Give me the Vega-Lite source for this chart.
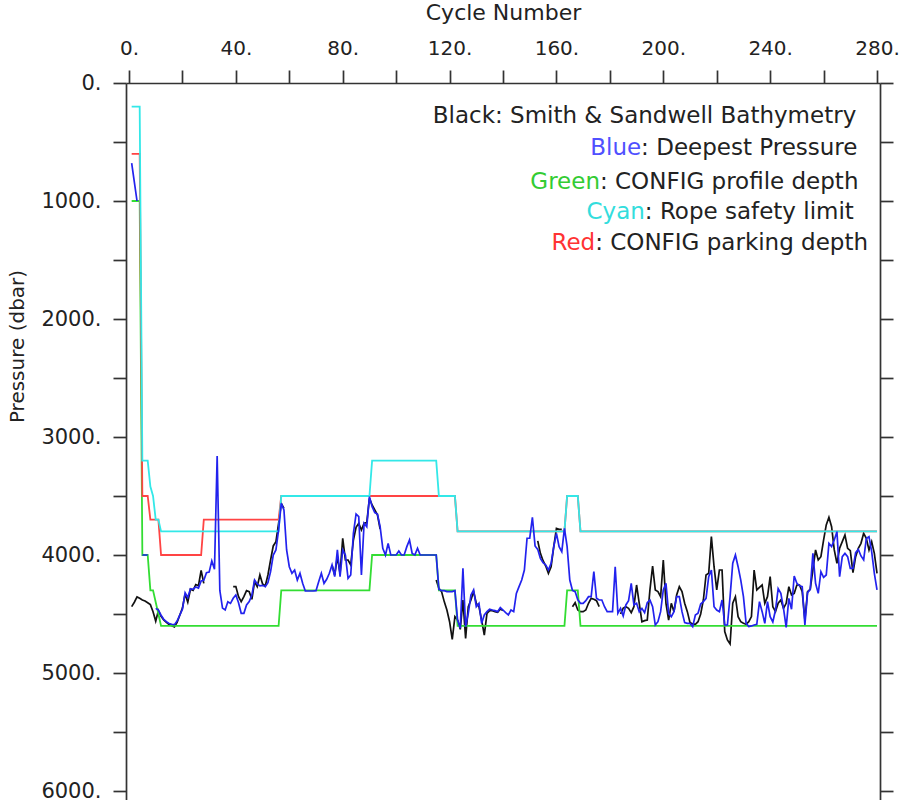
{
 "$schema": "https://vega.github.io/schema/vega-lite/v6.json",
 "width": 754,
 "height": 717,
 "autosize": {"type": "none"},
 "padding": {"left": 126, "top": 83, "right": 20, "bottom": 0},
 "background": "white",
 "config": {
  "view": {"stroke": null},
  "font": "DejaVu Sans",
  "axis": {"grid": false, "domainColor": "#333333", "tickColor": "#333333", "domainWidth": 1.7, "tickWidth": 1.7, "labelColor": "#222222", "titleColor": "#222222", "labelFontSize": 20, "titleFontSize": 20, "titleFontWeight": "normal", "labelFont": "DejaVu Sans", "titleFont": "DejaVu Sans"}
 },
 "datasets": {
  "floats": [
{"cycle":1,"bathymetry":4437,"deepest":680,"profile":1000,"rope":200,"parking":600},
{"cycle":2,"bathymetry":4400,"deepest":840,"profile":1000,"rope":200,"parking":600},
{"cycle":3,"bathymetry":4355,"deepest":1000,"profile":1000,"rope":200,"parking":600},
{"cycle":4,"bathymetry":4367,"deepest":null,"profile":1000,"rope":200,"parking":600},
{"cycle":5,"bathymetry":4381,"deepest":4000,"profile":4000,"rope":3200,"parking":3500},
{"cycle":6,"bathymetry":4390,"deepest":4000,"profile":4000,"rope":3200,"parking":3500},
{"cycle":7,"bathymetry":4404,"deepest":4000,"profile":4000,"rope":3200,"parking":3500},
{"cycle":8,"bathymetry":4420,"deepest":null,"profile":4300,"rope":3420,"parking":3700},
{"cycle":9,"bathymetry":4480,"deepest":null,"profile":4300,"rope":3500,"parking":3700},
{"cycle":10,"bathymetry":4560,"deepest":4452,"profile":4400,"rope":3700,"parking":3700},
{"cycle":11,"bathymetry":4470,"deepest":4466,"profile":4500,"rope":3700,"parking":3700},
{"cycle":12,"bathymetry":4520,"deepest":4510,"profile":4600,"rope":3800,"parking":4000},
{"cycle":13,"bathymetry":4550,"deepest":4545,"profile":4600,"rope":3800,"parking":4000},
{"cycle":14,"bathymetry":4570,"deepest":4565,"profile":4600,"rope":3800,"parking":4000},
{"cycle":15,"bathymetry":4590,"deepest":4580,"profile":4600,"rope":3800,"parking":4000},
{"cycle":16,"bathymetry":4600,"deepest":4587,"profile":4600,"rope":3800,"parking":4000},
{"cycle":17,"bathymetry":4610,"deepest":4590,"profile":4600,"rope":3800,"parking":4000},
{"cycle":18,"bathymetry":4570,"deepest":4560,"profile":4600,"rope":3800,"parking":4000},
{"cycle":19,"bathymetry":4510,"deepest":4510,"profile":4600,"rope":3800,"parking":4000},
{"cycle":20,"bathymetry":4450,"deepest":4460,"profile":4600,"rope":3800,"parking":4000},
{"cycle":21,"bathymetry":4330,"deepest":4320,"profile":4600,"rope":3800,"parking":4000},
{"cycle":22,"bathymetry":4400,"deepest":4360,"profile":4600,"rope":3800,"parking":4000},
{"cycle":23,"bathymetry":4290,"deepest":4285,"profile":4600,"rope":3800,"parking":4000},
{"cycle":24,"bathymetry":4300,"deepest":4290,"profile":4600,"rope":3800,"parking":4000},
{"cycle":25,"bathymetry":4250,"deepest":4270,"profile":4600,"rope":3800,"parking":4000},
{"cycle":26,"bathymetry":4260,"deepest":4280,"profile":4600,"rope":3800,"parking":4000},
{"cycle":27,"bathymetry":4130,"deepest":4220,"profile":4600,"rope":3800,"parking":4000},
{"cycle":28,"bathymetry":4240,"deepest":4215,"profile":4600,"rope":3800,"parking":3700},
{"cycle":29,"bathymetry":null,"deepest":4150,"profile":4600,"rope":3800,"parking":3700},
{"cycle":30,"bathymetry":null,"deepest":4145,"profile":4600,"rope":3800,"parking":3700},
{"cycle":31,"bathymetry":null,"deepest":4050,"profile":4600,"rope":3800,"parking":3700},
{"cycle":32,"bathymetry":null,"deepest":4120,"profile":4600,"rope":3800,"parking":3700},
{"cycle":33,"bathymetry":null,"deepest":3160,"profile":4600,"rope":3800,"parking":3700},
{"cycle":34,"bathymetry":null,"deepest":4300,"profile":4600,"rope":3800,"parking":3700},
{"cycle":35,"bathymetry":null,"deepest":4450,"profile":4600,"rope":3800,"parking":3700},
{"cycle":36,"bathymetry":null,"deepest":4466,"profile":4600,"rope":3800,"parking":3700},
{"cycle":37,"bathymetry":null,"deepest":4396,"profile":4600,"rope":3800,"parking":3700},
{"cycle":38,"bathymetry":null,"deepest":4410,"profile":4600,"rope":3800,"parking":3700},
{"cycle":39,"bathymetry":4268,"deepest":4367,"profile":4600,"rope":3800,"parking":3700},
{"cycle":40,"bathymetry":4268,"deepest":4339,"profile":4600,"rope":3800,"parking":3700},
{"cycle":41,"bathymetry":4353,"deepest":4404,"profile":4600,"rope":3800,"parking":3700},
{"cycle":42,"bathymetry":4395,"deepest":4494,"profile":4600,"rope":3800,"parking":3700},
{"cycle":43,"bathymetry":4353,"deepest":4494,"profile":4600,"rope":3800,"parking":3700},
{"cycle":44,"bathymetry":4302,"deepest":4423,"profile":4600,"rope":3800,"parking":3700},
{"cycle":45,"bathymetry":4310,"deepest":4395,"profile":4600,"rope":3800,"parking":3700},
{"cycle":46,"bathymetry":4375,"deepest":4339,"profile":4600,"rope":3800,"parking":3700},
{"cycle":47,"bathymetry":4226,"deepest":4212,"profile":4600,"rope":3800,"parking":3700},
{"cycle":48,"bathymetry":4268,"deepest":4245,"profile":4600,"rope":3800,"parking":3700},
{"cycle":49,"bathymetry":4169,"deepest":4262,"profile":4600,"rope":3800,"parking":3700},
{"cycle":50,"bathymetry":4245,"deepest":4257,"profile":4600,"rope":3800,"parking":3700},
{"cycle":51,"bathymetry":4262,"deepest":4268,"profile":4600,"rope":3800,"parking":3700},
{"cycle":52,"bathymetry":4169,"deepest":4234,"profile":4600,"rope":3800,"parking":3700},
{"cycle":53,"bathymetry":4042,"deepest":4141,"profile":4600,"rope":3800,"parking":3700},
{"cycle":54,"bathymetry":3923,"deepest":4000,"profile":4600,"rope":3800,"parking":3700},
{"cycle":55,"bathymetry":3887,"deepest":3957,"profile":4600,"rope":3800,"parking":3700},
{"cycle":56,"bathymetry":3731,"deepest":3788,"profile":4600,"rope":3800,"parking":3700},
{"cycle":57,"bathymetry":3562,"deepest":3562,"profile":4300,"rope":3500,"parking":3500},
{"cycle":58,"bathymetry":3604,"deepest":3618,"profile":4300,"rope":3500,"parking":3500},
{"cycle":59,"bathymetry":null,"deepest":3957,"profile":4300,"rope":3500,"parking":3500},
{"cycle":60,"bathymetry":null,"deepest":4099,"profile":4300,"rope":3500,"parking":3500},
{"cycle":61,"bathymetry":null,"deepest":4155,"profile":4300,"rope":3500,"parking":3500},
{"cycle":62,"bathymetry":null,"deepest":4127,"profile":4300,"rope":3500,"parking":3500},
{"cycle":63,"bathymetry":null,"deepest":4212,"profile":4300,"rope":3500,"parking":3500},
{"cycle":64,"bathymetry":null,"deepest":4155,"profile":4300,"rope":3500,"parking":3500},
{"cycle":65,"bathymetry":null,"deepest":4240,"profile":4300,"rope":3500,"parking":3500},
{"cycle":66,"bathymetry":null,"deepest":4305,"profile":4300,"rope":3500,"parking":3500},
{"cycle":67,"bathymetry":null,"deepest":4305,"profile":4300,"rope":3500,"parking":3500},
{"cycle":68,"bathymetry":null,"deepest":4305,"profile":4300,"rope":3500,"parking":3500},
{"cycle":69,"bathymetry":null,"deepest":4305,"profile":4300,"rope":3500,"parking":3500},
{"cycle":70,"bathymetry":null,"deepest":4302,"profile":4300,"rope":3500,"parking":3500},
{"cycle":71,"bathymetry":null,"deepest":4226,"profile":4300,"rope":3500,"parking":3500},
{"cycle":72,"bathymetry":null,"deepest":4155,"profile":4300,"rope":3500,"parking":3500},
{"cycle":73,"bathymetry":null,"deepest":4240,"profile":4300,"rope":3500,"parking":3500},
{"cycle":74,"bathymetry":null,"deepest":4206,"profile":4300,"rope":3500,"parking":3500},
{"cycle":75,"bathymetry":null,"deepest":4155,"profile":4300,"rope":3500,"parking":3500},
{"cycle":76,"bathymetry":4084,"deepest":4084,"profile":4300,"rope":3500,"parking":3500},
{"cycle":77,"bathymetry":4170,"deepest":4183,"profile":4300,"rope":3500,"parking":3500},
{"cycle":78,"bathymetry":4014,"deepest":3957,"profile":4300,"rope":3500,"parking":3500},
{"cycle":79,"bathymetry":4155,"deepest":4183,"profile":4300,"rope":3500,"parking":3500},
{"cycle":80,"bathymetry":3858,"deepest":3957,"profile":4300,"rope":3500,"parking":3500},
{"cycle":81,"bathymetry":4042,"deepest":4000,"profile":4300,"rope":3500,"parking":3500},
{"cycle":82,"bathymetry":4042,"deepest":4197,"profile":4300,"rope":3500,"parking":3500},
{"cycle":83,"bathymetry":4084,"deepest":4169,"profile":4300,"rope":3500,"parking":3500},
{"cycle":84,"bathymetry":3873,"deepest":3816,"profile":4300,"rope":3500,"parking":3500},
{"cycle":85,"bathymetry":3765,"deepest":3652,"profile":4300,"rope":3500,"parking":3500},
{"cycle":86,"bathymetry":3731,"deepest":3675,"profile":4300,"rope":3500,"parking":3500},
{"cycle":87,"bathymetry":3788,"deepest":4169,"profile":4300,"rope":3500,"parking":3500},
{"cycle":88,"bathymetry":3731,"deepest":3731,"profile":4300,"rope":3500,"parking":3500},
{"cycle":89,"bathymetry":3726,"deepest":3760,"profile":4300,"rope":3500,"parking":3500},
{"cycle":90,"bathymetry":3519,"deepest":3505,"profile":4300,"rope":3500,"parking":3500},
{"cycle":91,"bathymetry":3576,"deepest":3590,"profile":4000,"rope":3200,"parking":3500},
{"cycle":92,"bathymetry":3618,"deepest":3640,"profile":4000,"rope":3200,"parking":3500},
{"cycle":93,"bathymetry":3660,"deepest":3652,"profile":4000,"rope":3200,"parking":3500},
{"cycle":94,"bathymetry":3780,"deepest":3760,"profile":4000,"rope":3200,"parking":3500},
{"cycle":95,"bathymetry":null,"deepest":3943,"profile":4000,"rope":3200,"parking":3500},
{"cycle":96,"bathymetry":null,"deepest":4000,"profile":4000,"rope":3200,"parking":3500},
{"cycle":97,"bathymetry":null,"deepest":3901,"profile":4000,"rope":3200,"parking":3500},
{"cycle":98,"bathymetry":null,"deepest":4000,"profile":4000,"rope":3200,"parking":3500},
{"cycle":99,"bathymetry":null,"deepest":4000,"profile":4000,"rope":3200,"parking":3500},
{"cycle":100,"bathymetry":null,"deepest":4000,"profile":4000,"rope":3200,"parking":3500},
{"cycle":101,"bathymetry":null,"deepest":3966,"profile":4000,"rope":3200,"parking":3500},
{"cycle":102,"bathymetry":null,"deepest":4000,"profile":4000,"rope":3200,"parking":3500},
{"cycle":103,"bathymetry":null,"deepest":4000,"profile":4000,"rope":3200,"parking":3500},
{"cycle":104,"bathymetry":null,"deepest":3929,"profile":4000,"rope":3200,"parking":3500},
{"cycle":105,"bathymetry":null,"deepest":3873,"profile":4000,"rope":3200,"parking":3500},
{"cycle":106,"bathymetry":null,"deepest":3986,"profile":4000,"rope":3200,"parking":3500},
{"cycle":107,"bathymetry":null,"deepest":4000,"profile":4000,"rope":3200,"parking":3500},
{"cycle":108,"bathymetry":null,"deepest":3943,"profile":4000,"rope":3200,"parking":3500},
{"cycle":109,"bathymetry":null,"deepest":4000,"profile":4000,"rope":3200,"parking":3500},
{"cycle":110,"bathymetry":null,"deepest":4000,"profile":4000,"rope":3200,"parking":3500},
{"cycle":111,"bathymetry":null,"deepest":4000,"profile":4000,"rope":3200,"parking":3500},
{"cycle":112,"bathymetry":null,"deepest":4000,"profile":4000,"rope":3200,"parking":3500},
{"cycle":113,"bathymetry":null,"deepest":4000,"profile":4000,"rope":3200,"parking":3500},
{"cycle":114,"bathymetry":null,"deepest":4000,"profile":4000,"rope":3200,"parking":3500},
{"cycle":115,"bathymetry":4212,"deepest":4000,"profile":4000,"rope":3200,"parking":3500},
{"cycle":116,"bathymetry":4282,"deepest":4291,"profile":4300,"rope":3500,"parking":3500},
{"cycle":117,"bathymetry":4310,"deepest":4302,"profile":4300,"rope":3500,"parking":3500},
{"cycle":118,"bathymetry":4395,"deepest":4302,"profile":4300,"rope":3500,"parking":3500},
{"cycle":119,"bathymetry":4466,"deepest":4310,"profile":4300,"rope":3500,"parking":3500},
{"cycle":120,"bathymetry":4565,"deepest":4310,"profile":4300,"rope":3500,"parking":3500},
{"cycle":121,"bathymetry":4714,"deepest":4310,"profile":4300,"rope":3500,"parking":3500},
{"cycle":122,"bathymetry":4522,"deepest":4302,"profile":4300,"rope":3500,"parking":3500},
{"cycle":123,"bathymetry":4551,"deepest":4551,"profile":4600,"rope":3800,"parking":3800},
{"cycle":124,"bathymetry":4630,"deepest":4621,"profile":4600,"rope":3800,"parking":3800},
{"cycle":125,"bathymetry":4381,"deepest":4113,"profile":4600,"rope":3800,"parking":3800},
{"cycle":126,"bathymetry":4706,"deepest":4607,"profile":4600,"rope":3800,"parking":3800},
{"cycle":127,"bathymetry":4438,"deepest":4494,"profile":4600,"rope":3800,"parking":3800},
{"cycle":128,"bathymetry":4381,"deepest":4339,"profile":4600,"rope":3800,"parking":3800},
{"cycle":129,"bathymetry":4310,"deepest":4296,"profile":4600,"rope":3800,"parking":3800},
{"cycle":130,"bathymetry":4409,"deepest":4438,"profile":4600,"rope":3800,"parking":3800},
{"cycle":131,"bathymetry":4438,"deepest":4409,"profile":4600,"rope":3800,"parking":3800},
{"cycle":132,"bathymetry":4551,"deepest":4579,"profile":4600,"rope":3800,"parking":3800},
{"cycle":133,"bathymetry":4678,"deepest":4508,"profile":4600,"rope":3800,"parking":3800},
{"cycle":134,"bathymetry":4494,"deepest":4480,"profile":4600,"rope":3800,"parking":3800},
{"cycle":135,"bathymetry":4471,"deepest":4460,"profile":4600,"rope":3800,"parking":3800},
{"cycle":136,"bathymetry":4471,"deepest":4466,"profile":4600,"rope":3800,"parking":3800},
{"cycle":137,"bathymetry":4480,"deepest":4471,"profile":4600,"rope":3800,"parking":3800},
{"cycle":138,"bathymetry":4486,"deepest":4480,"profile":4600,"rope":3800,"parking":3800},
{"cycle":139,"bathymetry":4457,"deepest":4446,"profile":4600,"rope":3800,"parking":3800},
{"cycle":140,"bathymetry":4471,"deepest":4466,"profile":4600,"rope":3800,"parking":3800},
{"cycle":141,"bathymetry":null,"deepest":4488,"profile":4600,"rope":3800,"parking":3800},
{"cycle":142,"bathymetry":null,"deepest":4508,"profile":4600,"rope":3800,"parking":3800},
{"cycle":143,"bathymetry":null,"deepest":4466,"profile":4600,"rope":3800,"parking":3800},
{"cycle":144,"bathymetry":null,"deepest":4480,"profile":4600,"rope":3800,"parking":3800},
{"cycle":145,"bathymetry":null,"deepest":4325,"profile":4600,"rope":3800,"parking":3800},
{"cycle":146,"bathymetry":null,"deepest":4268,"profile":4600,"rope":3800,"parking":3800},
{"cycle":147,"bathymetry":null,"deepest":4212,"profile":4600,"rope":3800,"parking":3800},
{"cycle":148,"bathymetry":null,"deepest":4127,"profile":4600,"rope":3800,"parking":3800},
{"cycle":149,"bathymetry":null,"deepest":3858,"profile":4600,"rope":3800,"parking":3800},
{"cycle":150,"bathymetry":null,"deepest":3858,"profile":4600,"rope":3800,"parking":3800},
{"cycle":151,"bathymetry":null,"deepest":3680,"profile":4600,"rope":3800,"parking":3800},
{"cycle":152,"bathymetry":null,"deepest":3923,"profile":4600,"rope":3800,"parking":3800},
{"cycle":153,"bathymetry":3880,"deepest":3952,"profile":4600,"rope":3800,"parking":3800},
{"cycle":154,"bathymetry":3986,"deepest":4028,"profile":4600,"rope":3800,"parking":3800},
{"cycle":155,"bathymetry":4048,"deepest":4065,"profile":4600,"rope":3800,"parking":3800},
{"cycle":156,"bathymetry":4093,"deepest":4084,"profile":4600,"rope":3800,"parking":3800},
{"cycle":157,"bathymetry":4155,"deepest":4127,"profile":4600,"rope":3800,"parking":3800},
{"cycle":158,"bathymetry":4099,"deepest":4070,"profile":4600,"rope":3800,"parking":3800},
{"cycle":159,"bathymetry":3929,"deepest":3929,"profile":4600,"rope":3800,"parking":3800},
{"cycle":160,"bathymetry":3774,"deepest":3816,"profile":4600,"rope":3800,"parking":3800},
{"cycle":161,"bathymetry":3782,"deepest":3929,"profile":4600,"rope":3800,"parking":3800},
{"cycle":162,"bathymetry":3782,"deepest":3971,"profile":4600,"rope":3800,"parking":3800},
{"cycle":163,"bathymetry":null,"deepest":3774,"profile":4600,"rope":3800,"parking":3800},
{"cycle":164,"bathymetry":null,"deepest":3929,"profile":4300,"rope":3500,"parking":3500},
{"cycle":165,"bathymetry":null,"deepest":4212,"profile":4300,"rope":3500,"parking":3500},
{"cycle":166,"bathymetry":4438,"deepest":4300,"profile":4300,"rope":3500,"parking":3500},
{"cycle":167,"bathymetry":4404,"deepest":4310,"profile":4300,"rope":3500,"parking":3500},
{"cycle":168,"bathymetry":4466,"deepest":4380,"profile":4300,"rope":3500,"parking":3500},
{"cycle":169,"bathymetry":4480,"deepest":4409,"profile":4600,"rope":3800,"parking":3800},
{"cycle":170,"bathymetry":4480,"deepest":4409,"profile":4600,"rope":3800,"parking":3800},
{"cycle":171,"bathymetry":4466,"deepest":4387,"profile":4600,"rope":3800,"parking":3800},
{"cycle":172,"bathymetry":4409,"deepest":4353,"profile":4600,"rope":3800,"parking":3800},
{"cycle":173,"bathymetry":4367,"deepest":4353,"profile":4600,"rope":3800,"parking":3800},
{"cycle":174,"bathymetry":4375,"deepest":4141,"profile":4600,"rope":3800,"parking":3800},
{"cycle":175,"bathymetry":4387,"deepest":4367,"profile":4600,"rope":3800,"parking":3800},
{"cycle":176,"bathymetry":4438,"deepest":4381,"profile":4600,"rope":3800,"parking":3800},
{"cycle":177,"bathymetry":null,"deepest":4381,"profile":4600,"rope":3800,"parking":3800},
{"cycle":178,"bathymetry":null,"deepest":4438,"profile":4600,"rope":3800,"parking":3800},
{"cycle":179,"bathymetry":null,"deepest":4480,"profile":4600,"rope":3800,"parking":3800},
{"cycle":180,"bathymetry":null,"deepest":4480,"profile":4600,"rope":3800,"parking":3800},
{"cycle":181,"bathymetry":null,"deepest":4480,"profile":4600,"rope":3800,"parking":3800},
{"cycle":182,"bathymetry":null,"deepest":4099,"profile":4600,"rope":3800,"parking":3800},
{"cycle":183,"bathymetry":null,"deepest":4494,"profile":4600,"rope":3800,"parking":3800},
{"cycle":184,"bathymetry":4500,"deepest":4452,"profile":4600,"rope":3800,"parking":3800},
{"cycle":185,"bathymetry":4450,"deepest":4517,"profile":4600,"rope":3800,"parking":3800},
{"cycle":186,"bathymetry":4438,"deepest":4423,"profile":4600,"rope":3800,"parking":3800},
{"cycle":187,"bathymetry":4452,"deepest":4387,"profile":4600,"rope":3800,"parking":3800},
{"cycle":188,"bathymetry":4488,"deepest":4240,"profile":4600,"rope":3800,"parking":3800},
{"cycle":189,"bathymetry":4438,"deepest":4423,"profile":4600,"rope":3800,"parking":3800},
{"cycle":190,"bathymetry":4254,"deepest":4409,"profile":4600,"rope":3800,"parking":3800},
{"cycle":191,"bathymetry":4409,"deepest":4480,"profile":4600,"rope":3800,"parking":3800},
{"cycle":192,"bathymetry":4565,"deepest":4452,"profile":4600,"rope":3800,"parking":3800},
{"cycle":193,"bathymetry":4556,"deepest":4488,"profile":4600,"rope":3800,"parking":3800},
{"cycle":194,"bathymetry":4551,"deepest":4404,"profile":4600,"rope":3800,"parking":3800},
{"cycle":195,"bathymetry":4296,"deepest":4381,"profile":4600,"rope":3800,"parking":3800},
{"cycle":196,"bathymetry":4093,"deepest":4438,"profile":4600,"rope":3800,"parking":3800},
{"cycle":197,"bathymetry":4296,"deepest":4593,"profile":4600,"rope":3800,"parking":3800},
{"cycle":198,"bathymetry":4310,"deepest":4565,"profile":4600,"rope":3800,"parking":3800},
{"cycle":199,"bathymetry":4353,"deepest":4480,"profile":4600,"rope":3800,"parking":3800},
{"cycle":200,"bathymetry":4042,"deepest":4296,"profile":4600,"rope":3800,"parking":3800},
{"cycle":201,"bathymetry":4409,"deepest":4240,"profile":4600,"rope":3800,"parking":3800},
{"cycle":202,"bathymetry":4551,"deepest":4494,"profile":4600,"rope":3800,"parking":3800},
{"cycle":203,"bathymetry":4409,"deepest":4522,"profile":4600,"rope":3800,"parking":3800},
{"cycle":204,"bathymetry":4480,"deepest":4480,"profile":4600,"rope":3800,"parking":3800},
{"cycle":205,"bathymetry":4339,"deepest":4353,"profile":4600,"rope":3800,"parking":3800},
{"cycle":206,"bathymetry":4268,"deepest":4353,"profile":4600,"rope":3800,"parking":3800},
{"cycle":207,"bathymetry":4310,"deepest":4480,"profile":4600,"rope":3800,"parking":3800},
{"cycle":208,"bathymetry":4409,"deepest":4573,"profile":4600,"rope":3800,"parking":3800},
{"cycle":209,"bathymetry":4480,"deepest":4579,"profile":4600,"rope":3800,"parking":3800},
{"cycle":210,"bathymetry":4573,"deepest":4579,"profile":4600,"rope":3800,"parking":3800},
{"cycle":211,"bathymetry":4584,"deepest":4607,"profile":4600,"rope":3800,"parking":3800},
{"cycle":212,"bathymetry":4587,"deepest":4508,"profile":4600,"rope":3800,"parking":3800},
{"cycle":213,"bathymetry":4565,"deepest":4494,"profile":4600,"rope":3800,"parking":3800},
{"cycle":214,"bathymetry":4500,"deepest":4415,"profile":4600,"rope":3800,"parking":3800},
{"cycle":215,"bathymetry":4381,"deepest":4395,"profile":4600,"rope":3800,"parking":3800},
{"cycle":216,"bathymetry":4169,"deepest":4367,"profile":4600,"rope":3800,"parking":3800},
{"cycle":217,"bathymetry":4155,"deepest":4183,"profile":4600,"rope":3800,"parking":3800},
{"cycle":218,"bathymetry":3844,"deepest":4127,"profile":4600,"rope":3800,"parking":3800},
{"cycle":219,"bathymetry":4099,"deepest":4438,"profile":4600,"rope":3800,"parking":3800},
{"cycle":220,"bathymetry":4296,"deepest":4466,"profile":4600,"rope":3800,"parking":3800},
{"cycle":221,"bathymetry":4127,"deepest":4480,"profile":4600,"rope":3800,"parking":3800},
{"cycle":222,"bathymetry":4127,"deepest":4381,"profile":4600,"rope":3800,"parking":3800},
{"cycle":223,"bathymetry":4649,"deepest":4593,"profile":4600,"rope":3800,"parking":3800},
{"cycle":224,"bathymetry":4720,"deepest":4593,"profile":4600,"rope":3800,"parking":3800},
{"cycle":225,"bathymetry":4754,"deepest":4353,"profile":4600,"rope":3800,"parking":3800},
{"cycle":226,"bathymetry":4409,"deepest":4070,"profile":4600,"rope":3800,"parking":3800},
{"cycle":227,"bathymetry":4353,"deepest":4000,"profile":4600,"rope":3800,"parking":3800},
{"cycle":228,"bathymetry":4522,"deepest":4099,"profile":4600,"rope":3800,"parking":3800},
{"cycle":229,"bathymetry":4565,"deepest":4212,"profile":4600,"rope":3800,"parking":3800},
{"cycle":230,"bathymetry":4579,"deepest":4353,"profile":4600,"rope":3800,"parking":3800},
{"cycle":231,"bathymetry":4587,"deepest":4579,"profile":4600,"rope":3800,"parking":3800},
{"cycle":232,"bathymetry":4565,"deepest":4607,"profile":4600,"rope":3800,"parking":3800},
{"cycle":233,"bathymetry":4522,"deepest":4601,"profile":4600,"rope":3800,"parking":3800},
{"cycle":234,"bathymetry":4127,"deepest":4593,"profile":4600,"rope":3800,"parking":3800},
{"cycle":235,"bathymetry":4296,"deepest":4587,"profile":4600,"rope":3800,"parking":3800},
{"cycle":236,"bathymetry":4274,"deepest":4395,"profile":4600,"rope":3800,"parking":3800},
{"cycle":237,"bathymetry":4254,"deepest":4480,"profile":4600,"rope":3800,"parking":3800},
{"cycle":238,"bathymetry":4409,"deepest":4579,"profile":4600,"rope":3800,"parking":3800},
{"cycle":239,"bathymetry":4353,"deepest":4395,"profile":4600,"rope":3800,"parking":3800},
{"cycle":240,"bathymetry":4183,"deepest":4522,"profile":4600,"rope":3800,"parking":3800},
{"cycle":241,"bathymetry":4438,"deepest":4567,"profile":4600,"rope":3800,"parking":3800},
{"cycle":242,"bathymetry":4480,"deepest":4466,"profile":4600,"rope":3800,"parking":3800},
{"cycle":243,"bathymetry":4409,"deepest":4285,"profile":4600,"rope":3800,"parking":3800},
{"cycle":244,"bathymetry":4381,"deepest":4325,"profile":4600,"rope":3800,"parking":3800},
{"cycle":245,"bathymetry":4452,"deepest":4452,"profile":4600,"rope":3800,"parking":3800},
{"cycle":246,"bathymetry":4409,"deepest":4613,"profile":4600,"rope":3800,"parking":3800},
{"cycle":247,"bathymetry":4268,"deepest":4367,"profile":4600,"rope":3800,"parking":3800},
{"cycle":248,"bathymetry":4339,"deepest":4460,"profile":4600,"rope":3800,"parking":3800},
{"cycle":249,"bathymetry":4325,"deepest":4178,"profile":4600,"rope":3800,"parking":3800},
{"cycle":250,"bathymetry":4254,"deepest":4240,"profile":4600,"rope":3800,"parking":3800},
{"cycle":251,"bathymetry":4254,"deepest":4260,"profile":4600,"rope":3800,"parking":3800},
{"cycle":252,"bathymetry":4310,"deepest":4268,"profile":4600,"rope":3800,"parking":3800},
{"cycle":253,"bathymetry":4551,"deepest":4593,"profile":4600,"rope":3800,"parking":3800},
{"cycle":254,"bathymetry":4310,"deepest":4319,"profile":4600,"rope":3800,"parking":3800},
{"cycle":255,"bathymetry":4291,"deepest":4291,"profile":4600,"rope":3800,"parking":3800},
{"cycle":256,"bathymetry":4127,"deepest":3986,"profile":4600,"rope":3800,"parking":3800},
{"cycle":257,"bathymetry":3957,"deepest":4240,"profile":4600,"rope":3800,"parking":3800},
{"cycle":258,"bathymetry":4042,"deepest":4325,"profile":4600,"rope":3800,"parking":3800},
{"cycle":259,"bathymetry":4014,"deepest":4141,"profile":4600,"rope":3800,"parking":3800},
{"cycle":260,"bathymetry":3873,"deepest":4189,"profile":4600,"rope":3800,"parking":3800},
{"cycle":261,"bathymetry":3745,"deepest":4169,"profile":4600,"rope":3800,"parking":3800},
{"cycle":262,"bathymetry":3680,"deepest":3901,"profile":4600,"rope":3800,"parking":3800},
{"cycle":263,"bathymetry":3760,"deepest":3929,"profile":4600,"rope":3800,"parking":3800},
{"cycle":264,"bathymetry":3957,"deepest":3873,"profile":4600,"rope":3800,"parking":3800},
{"cycle":265,"bathymetry":4070,"deepest":3802,"profile":4600,"rope":3800,"parking":3800},
{"cycle":266,"bathymetry":3943,"deepest":4183,"profile":4600,"rope":3800,"parking":3800},
{"cycle":267,"bathymetry":3887,"deepest":4014,"profile":4600,"rope":3800,"parking":3800},
{"cycle":268,"bathymetry":3830,"deepest":3986,"profile":4600,"rope":3800,"parking":3800},
{"cycle":269,"bathymetry":3943,"deepest":4014,"profile":4600,"rope":3800,"parking":3800},
{"cycle":270,"bathymetry":3963,"deepest":4113,"profile":4600,"rope":3800,"parking":3800},
{"cycle":271,"bathymetry":4149,"deepest":4113,"profile":4600,"rope":3800,"parking":3800},
{"cycle":272,"bathymetry":4014,"deepest":3980,"profile":4600,"rope":3800,"parking":3800},
{"cycle":273,"bathymetry":3943,"deepest":3952,"profile":4600,"rope":3800,"parking":3800},
{"cycle":274,"bathymetry":3901,"deepest":4008,"profile":4600,"rope":3800,"parking":3800},
{"cycle":275,"bathymetry":3816,"deepest":4042,"profile":4600,"rope":3800,"parking":3800},
{"cycle":276,"bathymetry":3858,"deepest":3860,"profile":4600,"rope":3800,"parking":3800},
{"cycle":277,"bathymetry":3957,"deepest":3844,"profile":4600,"rope":3800,"parking":3800},
{"cycle":278,"bathymetry":3887,"deepest":3971,"profile":4600,"rope":3800,"parking":3800},
{"cycle":279,"bathymetry":3986,"deepest":4155,"profile":4600,"rope":3800,"parking":3800},
{"cycle":280,"bathymetry":4155,"deepest":4296,"profile":4600,"rope":3800,"parking":3800}
  ],
  "legend": [
   {"x": 137.0, "y": 280, "word": "Black", "rest": ": Smith & Sandwell Bathymetry", "series": "Black"},
   {"x": 191.7, "y": 551, "word": "Blue", "rest": ": Deepest Pressure", "series": "Blue"},
   {"x": 176.3, "y": 839, "word": "Green", "rest": ": CONFIG profile depth", "series": "Green"},
   {"x": 193.1, "y": 1093, "word": "Cyan", "rest": ": Rope safety limit", "series": "Cyan"},
   {"x": 174.5, "y": 1356, "word": "Red", "rest": ": CONFIG parking depth", "series": "Red"}
  ]
 },
 "layer": [
  {
   "data": {"name": "floats"},
   "mark": {"type": "line", "color": "#111111", "strokeWidth": 1.7, "invalid": "break-paths-filter-domains"},
   "encoding": {
    "x": {"field": "cycle", "type": "quantitative", "scale": {"domain": [-1.123, 281.12], "nice": false, "zero": false},
     "axis": {"orient": "top", "values": [0,20,40,60,80,100,120,140,160,180,200,220,240,260,280], "labelExpr": "datum.value % 40 === 0 ? datum.value + '.' : ''", "tickSize": 13, "labelPadding": 12, "labelFlush": false, "labelOverlap": false, "title": "Cycle Number", "titleFontSize": 22, "titleY": -71, "titleBaseline": "middle"}},
    "y": {"field": "bathymetry", "type": "quantitative", "scale": {"domain": [0, 6076], "reverse": true, "nice": false, "zero": false},
     "axis": {"orient": "left", "values": [0,500,1000,1500,2000,2500,3000,3500,4000,4500,5000,5500,6000], "labelExpr": "datum.value % 1000 === 0 ? datum.value + '.' : ''", "tickSize": 13, "labelPadding": 12, "labelFontSize": 21, "labelOverlap": false, "labelFlush": false, "title": "Pressure (dbar)", "titleX": -109, "titleY": 263, "titleAlign": "center", "titleBaseline": "middle", "titleAngle": -90}}
   }
  },
  {
   "data": {"name": "floats"},
   "mark": {"type": "line", "color": "#33dd33", "strokeWidth": 1.8, "invalid": "break-paths-filter-domains"},
   "encoding": {
    "x": {"field": "cycle", "type": "quantitative", "scale": {"domain": [-1.123, 281.12], "nice": false, "zero": false}, "axis": null},
    "y": {"field": "profile", "type": "quantitative", "scale": {"domain": [0, 6076], "reverse": true, "nice": false, "zero": false},
     "axis": {"orient": "right", "values": [0,500,1000,1500,2000,2500,3000,3500,4000,4500,5000,5500,6000], "labels": false, "tickSize": 13, "title": null}}
   }
  },
  {
   "data": {"name": "floats"},
   "mark": {"type": "line", "color": "#ff4444", "strokeWidth": 1.8, "invalid": "break-paths-filter-domains"},
   "encoding": {
    "x": {"field": "cycle", "type": "quantitative", "scale": {"domain": [-1.123, 281.12], "nice": false, "zero": false}, "axis": null},
    "y": {"field": "parking", "type": "quantitative", "scale": {"domain": [0, 6076], "reverse": true, "nice": false, "zero": false}, "axis": null}
   }
  },
  {
   "data": {"name": "floats"},
   "mark": {"type": "line", "color": "#33e8e8", "strokeWidth": 1.8, "invalid": "break-paths-filter-domains"},
   "encoding": {
    "x": {"field": "cycle", "type": "quantitative", "scale": {"domain": [-1.123, 281.12], "nice": false, "zero": false}, "axis": null},
    "y": {"field": "rope", "type": "quantitative", "scale": {"domain": [0, 6076], "reverse": true, "nice": false, "zero": false}, "axis": null}
   }
  },
  {
   "data": {"name": "floats"},
   "mark": {"type": "line", "color": "#2222ee", "strokeWidth": 1.7, "invalid": "break-paths-filter-domains"},
   "encoding": {
    "x": {"field": "cycle", "type": "quantitative", "scale": {"domain": [-1.123, 281.12], "nice": false, "zero": false}, "axis": null},
    "y": {"field": "deepest", "type": "quantitative", "scale": {"domain": [0, 6076], "reverse": true, "nice": false, "zero": false}, "axis": null}
   }
  },
  {
   "data": {"name": "legend"},
   "mark": {"type": "text", "align": "right", "baseline": "middle", "fontSize": 23, "font": "DejaVu Sans"},
   "encoding": {
    "x": {"field": "x", "type": "quantitative", "scale": {"domain": [-1.123, 281.12], "nice": false, "zero": false}, "axis": null},
    "y": {"field": "y", "type": "quantitative", "scale": {"domain": [0, 6076], "reverse": true, "nice": false, "zero": false}, "axis": null},
    "text": {"field": "word"},
    "color": {"field": "series", "type": "nominal", "scale": {"domain": ["Black", "Blue", "Green", "Cyan", "Red"], "range": ["#222222", "#5050ff", "#33cc33", "#33dddd", "#ff3333"]}, "legend": null}
   }
  },
  {
   "data": {"name": "legend"},
   "mark": {"type": "text", "align": "left", "baseline": "middle", "fontSize": 23, "font": "DejaVu Sans", "color": "#222222"},
   "encoding": {
    "x": {"field": "x", "type": "quantitative", "scale": {"domain": [-1.123, 281.12], "nice": false, "zero": false}, "axis": null},
    "y": {"field": "y", "type": "quantitative", "scale": {"domain": [0, 6076], "reverse": true, "nice": false, "zero": false}, "axis": null},
    "text": {"field": "rest"}
   }
  }
 ],
 "resolve": {"axis": {"x": "independent", "y": "independent"}}
}
